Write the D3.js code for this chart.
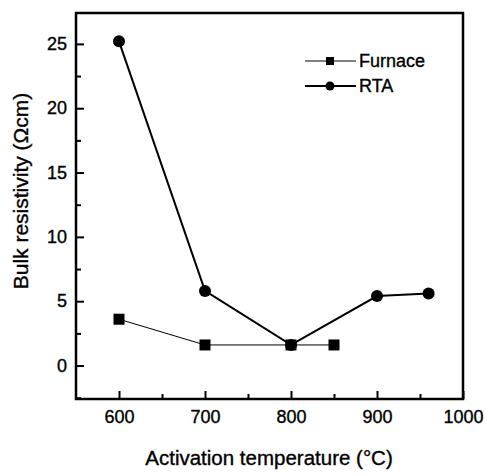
<!DOCTYPE html>
<html>
<head>
<meta charset="utf-8">
<script src="https://d3js.org/d3.v7.min.js"></script>
<style>
	body { margin: 0; background: #fff; }
	text { font-family: Arial, "Liberation Sans", sans-serif; fill: #000; stroke: #000; stroke-width: 0.35px; }
</style>
</head>
<body>
<div id="chart"></div>
<script>
// GLOBAL DATA

// Activation temperatures for each series
const furnaceTemps = [600, 700, 800, 850];
const rtaTemps = [600, 700, 800, 900, 960];
// Bulk resistivity values (Ohm cm)
const furnaceValues = [3.6, 1.6, 1.6, 1.6];
const rtaValues = [25.2, 5.8, 1.6, 5.4, 5.6];
// Tick labels
const xTicks = [600, 700, 800, 900, 1000];
const yTicks = [0, 5, 10, 15, 20, 25];
const seriesNames = ["Furnace", "RTA"];

const width = 486, height = 474;
const margin = {top: 13, right: 23, bottom: 75, left: 76};

let svg = d3.select("#chart")
  .append("svg")
    .attr("width", width)
    .attr("height", height);

// Scales
let x = d3.scaleLinear()
  .domain([550, 1000])
  .range([margin.left, width - margin.right]);

let y = d3.scaleLinear()
  .domain([-2.6, 27.4])
  .range([height - margin.bottom, margin.top]);

// Axes with inward ticks
let xAxis = d3.axisBottom(x)
  .tickValues(xTicks)
  .tickSize(-8)
  .tickPadding(11)
  .tickFormat(d3.format("d"));

let xMinor = d3.axisBottom(x)
  .tickValues([650, 750, 850, 950])
  .tickSize(-5)
  .tickFormat("");

let yAxis = d3.axisLeft(y)
  .tickValues(yTicks)
  .tickSize(-8)
  .tickPadding(9)
  .tickFormat(d3.format("d"));

let yMinor = d3.axisLeft(y)
  .tickValues([-2.5, 2.5, 7.5, 12.5, 17.5, 22.5])
  .tickSize(-5)
  .tickFormat("");

function styleAxis(g) {
	g.select(".domain").remove();
	g.selectAll(".tick line").attr("stroke", "#000").attr("stroke-width", 2);
	g.selectAll(".tick text").attr("font-size", 18).attr("fill", "#000");
}

svg.append("g")
  .attr("transform", "translate(0," + (height - margin.bottom) + ")")
  .call(xAxis)
  .call(styleAxis);

svg.append("g")
  .attr("transform", "translate(0," + (height - margin.bottom) + ")")
  .call(xMinor)
  .call(styleAxis);

svg.append("g")
  .attr("transform", "translate(" + margin.left + ",0)")
  .call(yAxis)
  .call(styleAxis);

svg.append("g")
  .attr("transform", "translate(" + margin.left + ",0)")
  .call(yMinor)
  .call(styleAxis);

// Plot frame
svg.append("rect")
  .attr("x", margin.left)
  .attr("y", margin.top)
  .attr("width", width - margin.left - margin.right)
  .attr("height", height - margin.top - margin.bottom)
  .attr("fill", "none")
  .attr("stroke", "#000")
  .attr("stroke-width", 2.5);

// Lines
let line = d3.line()
  .x(d => x(d[0]))
  .y(d => y(d[1]));

const furnaceData = d3.zip(furnaceTemps, furnaceValues);
const rtaData = d3.zip(rtaTemps, rtaValues);

svg.append("path")
  .datum(furnaceData)
  .attr("d", line)
  .attr("fill", "none")
  .attr("stroke", "#000")
  .attr("stroke-width", 1);

svg.append("path")
  .datum(rtaData)
  .attr("d", line)
  .attr("fill", "none")
  .attr("stroke", "#000")
  .attr("stroke-width", 2);

// Markers
svg.selectAll(".sq")
  .data(furnaceData)
  .enter()
  .append("rect")
  .attr("x", d => x(d[0]) - 5.5)
  .attr("y", d => y(d[1]) - 5.5)
  .attr("width", 11)
  .attr("height", 11)
  .attr("fill", "#000");

svg.selectAll(".dot")
  .data(rtaData)
  .enter()
  .append("circle")
  .attr("cx", d => x(d[0]))
  .attr("cy", d => y(d[1]))
  .attr("r", 6)
  .attr("fill", "#000");

// Legend
let legend = svg.append("g");
seriesNames.forEach(function(name, i) {
	let ly = 61 + i * 25;
	legend.append("line")
	  .attr("x1", 305).attr("x2", 356)
	  .attr("y1", ly).attr("y2", ly)
	  .attr("stroke", "#000")
	  .attr("stroke-width", i ? 2 : 1);
	if (i) {
		legend.append("circle").attr("cx", 330).attr("cy", ly).attr("r", 4.5).attr("fill", "#000");
	} else {
		legend.append("rect").attr("x", 326).attr("y", ly - 4).attr("width", 8).attr("height", 8).attr("fill", "#000");
	}
	legend.append("text")
	  .attr("x", 359)
	  .attr("y", ly)
	  .attr("dy", "0.35em")
	  .attr("font-size", 18)
	  .text(name);
});

// Axis titles
svg.append("text")
  .attr("x", 269)
  .attr("y", 465)
  .attr("text-anchor", "middle")
  .attr("font-size", 20.5)
  .text("Activation temperature (\u00B0C)");

svg.append("text")
  .attr("transform", "translate(28,191) rotate(-90)")
  .attr("text-anchor", "middle")
  .attr("font-size", 21)
  .text("Bulk resistivity (\u03A9cm)");
</script>
</body>
</html>
